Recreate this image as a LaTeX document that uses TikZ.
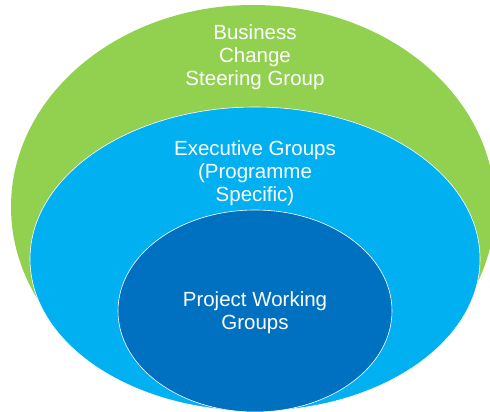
\documentclass[tikz,border=0pt]{standalone}
\usepackage{fontspec}
\setmainfont{Liberation Sans}
\usetikzlibrary{positioning}

\definecolor{steergreen}{HTML}{92D050}
\definecolor{execblue}{HTML}{00B0F0}
\definecolor{projblue}{HTML}{0070C0}

\begin{document}
\begin{tikzpicture}[x=1pt, y=-1pt,
		% Styles
		label/.style={text=white, align=center, font=\fontsize{20.5}{23}\selectfont, inner sep=0pt},
		ring/.style={draw=white, line width=0.6pt},
		]

		% Canvas
		\fill[white] (0,0) rectangle (490,412);
		\useasboundingbox (0,0) rectangle (490,412);

		% Business change steering group
		\fill[steergreen] (253,207) ellipse [x radius=242, y radius=202];

		% Executive groups
		\fill[execblue, ring] (255,259) ellipse [x radius=225, y radius=152];

		% Project working groups
		\fill[projblue, ring] (255,311) ellipse [x radius=137, y radius=101];

		% Labels
		\node[label] (steering) at (255,57) {Business\\Change\\Steering Group};
		\node[label] (executive) at (255,173) {Executive Groups\\(Programme\\Specific)};
		\node[label] (project) at (255,313) {Project Working\\Groups};

	\end{tikzpicture}
\end{document}
